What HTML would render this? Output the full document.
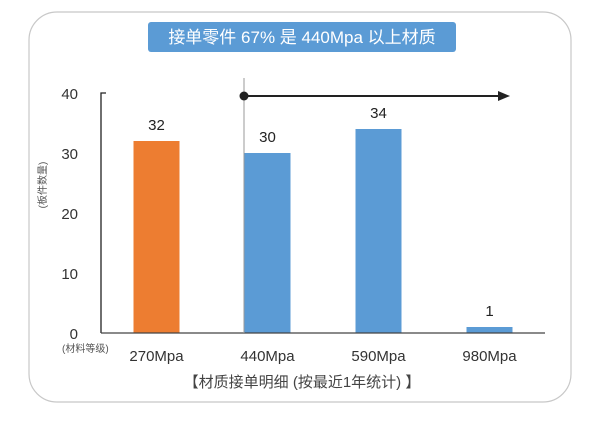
<!DOCTYPE html>
<html><head><meta charset="utf-8"><style>
body{margin:0;background:#fff;}
svg text{font-family:"Liberation Sans","Noto Sans CJK SC",sans-serif;}
</style></head><body>
<svg width="600" height="418" viewBox="0 0 600 418">
<rect x="29" y="12" width="542" height="390" rx="28" fill="#fff" stroke="#c8c8c8" stroke-width="1.2"/>
<rect x="148" y="22" width="308" height="30" rx="3" fill="#5b9bd5"/>
<text x="302" y="43" text-anchor="middle" font-size="17" fill="#fff">接单零件 67% 是 440Mpa 以上材质</text>
<g id="plot"></g>
<line x1="244" y1="78" x2="244" y2="333" stroke="#999" stroke-width="1"/>
<line x1="244" y1="96" x2="500" y2="96" stroke="#222" stroke-width="2"/>
<polygon points="498,91 510,96 498,101" fill="#222"/>
<circle cx="244" cy="96" r="4.5" fill="#222"/>
<text x="46" y="185" transform="rotate(-90 46 185)" text-anchor="middle" font-size="10" fill="#555">(板件数量)</text>
<text x="62" y="352" font-size="10" fill="#555">(材料等级)</text>
<text x="302" y="387" text-anchor="middle" font-size="15" fill="#444">【材质接单明细 (按最近1年统计) 】</text>
</svg>
<script>
const categories=["270Mpa","440Mpa","590Mpa","980Mpa"];
const values=[32,30,34,1];
const colors=["#ed7d31","#5b9bd5","#5b9bd5","#5b9bd5"];
const ticks=[0,10,20,30,40];
const ns="http://www.w3.org/2000/svg";
const g=document.getElementById("plot");
const x0=101,x1=545,yb=333,yt=93,vmax=40;
const band=(x1-x0)/categories.length;
function y(v){return yb-(yb-yt)*v/vmax;}
function xc(i){return x0+band*(i+0.5);}
function mk(t,a){const e=document.createElementNS(ns,t);for(const k in a)e.setAttribute(k,a[k]);g.appendChild(e);return e;}
ticks.forEach(t=>{
 const e=mk("text",{x:78,y:y(t)+6,"text-anchor":"end","font-size":15,fill:"#333"});
 
 
 e.textContent=t;
});
values.forEach((v,i)=>{
 const w=46;
 const r=mk("rect",{x:xc(i)-w/2,y:y(v),width:w,height:yb-y(v),fill:colors[i]});
 
 
 const l=mk("text",{x:xc(i),y:y(v)-11,"text-anchor":"middle","font-size":15,fill:"#222"});
 
 
 l.textContent=v;
 const c=mk("text",{x:xc(i),y:361,"text-anchor":"middle","font-size":15,fill:"#333"});
 
 
 c.textContent=categories[i];
});
const ya=mk("path",{d:`M${x0+5} ${yt}H${x0}V${yb}`,fill:"none",stroke:"#222","stroke-width":1.3});


const xa=mk("line",{x1:x0,y1:yb,x2:x1,y2:yb,stroke:"#444","stroke-width":1.3});


</script>
</body></html>
